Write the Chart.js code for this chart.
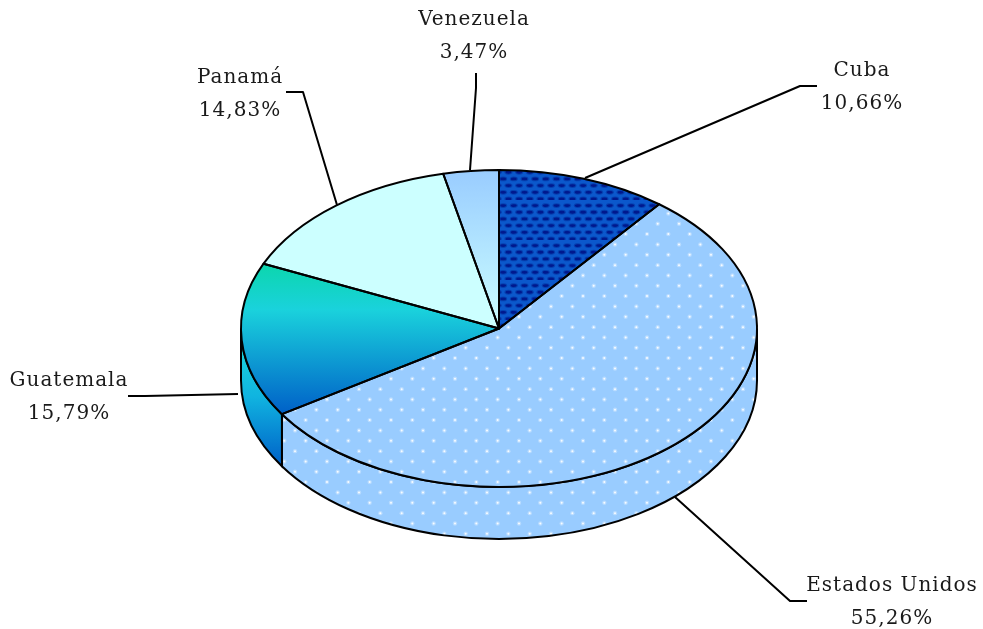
<!DOCTYPE html>
<html>
<head>
<meta charset="utf-8">
<style>
  html, body { margin: 0; padding: 0; background: #fff; }
  canvas { display: block; }
</style>
<script src="https://cdn.jsdelivr.net/npm/chart.js@4"></script>
</head>
<body>
<canvas id="myChart" width="983" height="629"></canvas>
<script>
  // DATA
  const countries = ['Cuba', 'Estados Unidos', 'Guatemala', 'Panamá', 'Venezuela'];
  const shares = [10.66, 55.26, 15.79, 14.83, 3.47];

  // label layout, same order as countries: text centre x, first baseline, leader polyline
  const labelX = [862, 892, 69, 240, 474];
  const labelY = [76, 591, 386, 83, 25];
  const leaders = [
      [[585, 178], [800, 86], [817, 86]],
      [[675, 497], [790, 601], [807, 601]],
      [[238, 394], [145, 396], [128, 396]],
      [[337, 205], [303, 92], [286, 92]],
      [[470, 170], [476, 88], [476, 73]]
  ];

  // the pie is drawn flat by Chart.js and squashed to look tilted
  const squash = 158.5 / 258;
  const depth = 52;

  const canvas = document.getElementById('myChart');
  const ctx = canvas.getContext('2d');
  const centerY = 328.5;

  // y on the squashed picture -> y in the flat pie
  function flatY(y) {
      return centerY + (y - centerY) / squash;
  }

  function makeTile(w, h, draw) {
      const c = document.createElement('canvas');
      c.width = w;
      c.height = h;
      draw(c.getContext('2d'));
      return c;
  }

  // 3 columns and 6 rows, so spacing stays 21.33 x 10.33
  const dotTile = makeTile(64, 62, function (t) {
      t.fillStyle = '#99ccff';
      t.fillRect(0, 0, 64, 62);
      for (let row = 0; row < 6; row++) {
          for (let col = 0; col < 3; col++) {
              const x = (row % 2 ? 17.7 : 7) + col * 21.33;
              const y = 6.8 + row * 10.33;
              t.fillStyle = 'rgba(255,255,255,0.3)';
              t.beginPath();
              t.arc(x, y, 2.2, 0, Math.PI * 2);
              t.fill();
              t.fillStyle = 'rgba(255,255,255,0.9)';
              t.beginPath();
              t.arc(x, y, 1, 0, Math.PI * 2);
              t.fill();
          }
      }
  });

  // 3 columns and 6 rows again, spacing 10.67 x 6.67
  const cubaTile = makeTile(32, 40, function (t) {
      t.fillStyle = '#0b58cc';
      t.fillRect(0, 0, 32, 40);
      for (let row = 0; row < 6; row++) {
          for (let col = -1; col < 4; col++) {
              const x = (row % 2 ? 7.1 : 1.8) + col * 10.67;
              const y = 5.6 + row * 6.67;
              t.fillStyle = '#0640b0';
              t.beginPath();
              t.ellipse(x, y, 4, 2.4, 0, 0, Math.PI * 2);
              t.fill();
              t.fillStyle = '#00188e';
              t.beginPath();
              t.ellipse(x, y, 3, 1.4, 0, 0, Math.PI * 2);
              t.fill();
          }
      }
  });

  function flatPattern(tile) {
      const p = ctx.createPattern(tile, 'repeat');
      p.setTransform(new DOMMatrix().translate(0, centerY).scale(1, 1 / squash).translate(0, -centerY));
      return p;
  }

  function gradient(stops, y0, y1) {
      const g = ctx.createLinearGradient(0, y0, 0, y1);
      stops.forEach(function (s) { g.addColorStop(s[0], s[1]); });
      return g;
  }

  const guatemalaStops = [[0, '#0cd6ae'], [0.3, '#1ad2dc'], [1, '#0060c8']];

  const topFills = [
      flatPattern(cubaTile),
      flatPattern(dotTile),
      gradient(guatemalaStops, flatY(265), flatY(414)),
      '#ccffff',
      gradient([[0, '#99ccff'], [1, '#ccffff']], flatY(170), flatY(328))
  ];

  const wallFills = [
      null,
      ctx.createPattern(dotTile, 'repeat'),
      gradient([[0, '#1ad2dc'], [0.4, '#10b4e0'], [1, '#0060c8']], 350, 466),
      null,
      null
  ];

  function labelLines(i) {
      return [countries[i], shares[i].toFixed(2).replace('.', ',') + '%'];
  }

  const tiltPlugin = {
      id: 'tilt',
      beforeDatasetsDraw(chart) {
          const c = chart.ctx;
          const arcs = chart.getDatasetMeta(0).data;
          // side wall, only the part of each slice facing the viewer
          arcs.forEach(function (arc, i) {
              const from = Math.max(arc.startAngle, 0);
              const to = Math.min(arc.endAngle, Math.PI);
              if (from >= to) return;
              const rx = arc.outerRadius;
              const ry = rx * squash;
              c.beginPath();
              c.ellipse(arc.x, arc.y, rx, ry, 0, from, to);
              c.ellipse(arc.x, arc.y + depth, rx, ry, 0, to, from, true);
              c.closePath();
              c.fillStyle = wallFills[i];
              c.fill();
              c.lineWidth = 2;
              c.strokeStyle = '#000';
              c.stroke();
          });
          c.save();
          c.translate(0, centerY);
          c.scale(1, squash);
          c.translate(0, -centerY);
      },
      afterDatasetsDraw(chart) {
          const c = chart.ctx;
          c.restore();
          // outlines go here so the line width is not squashed as well
          chart.getDatasetMeta(0).data.forEach(function (arc) {
              const rx = arc.outerRadius;
              c.beginPath();
              c.moveTo(arc.x, arc.y);
              c.ellipse(arc.x, arc.y, rx, rx * squash, 0, arc.startAngle, arc.endAngle);
              c.closePath();
              c.lineWidth = 2;
              c.lineJoin = 'round';
              c.strokeStyle = '#000';
              c.stroke();
          });
      },
      afterDraw(chart) {
          const c = chart.ctx;
          c.save();
          c.strokeStyle = '#000';
          c.lineWidth = 2;
          leaders.forEach(function (line) {
              c.beginPath();
              line.forEach(function (p, k) {
                  if (k === 0) c.moveTo(p[0], p[1]);
                  else c.lineTo(p[0], p[1]);
              });
              c.stroke();
          });
          c.fillStyle = '#1a1a1a';
          c.font = '20px "DejaVu Serif"';
          c.letterSpacing = '1px';
          c.textAlign = 'center';
          c.textBaseline = 'alphabetic';
          countries.forEach(function (name, i) {
              labelLines(i).forEach(function (text, k) {
                  c.fillText(text, labelX[i], labelY[i] + k * 32.5);
              });
          });
          c.restore();
      }
  };

  const config = {
      type: 'pie',
      data: {
          labels: countries,
          datasets: [{
              data: shares,
              backgroundColor: topFills,
              borderWidth: 0,
              clip: false
          }]
      },
      options: {
          responsive: false,
          animation: false,
          radius: 258,
          layout: { padding: { left: 15, top: 28 } },
          plugins: {
              legend: { display: false },
              tooltip: { enabled: false }
          }
      },
      plugins: [tiltPlugin]
  };

  // RENDER BLOCK
  var myChart = new Chart(canvas, config);
</script>
</body>
</html>
